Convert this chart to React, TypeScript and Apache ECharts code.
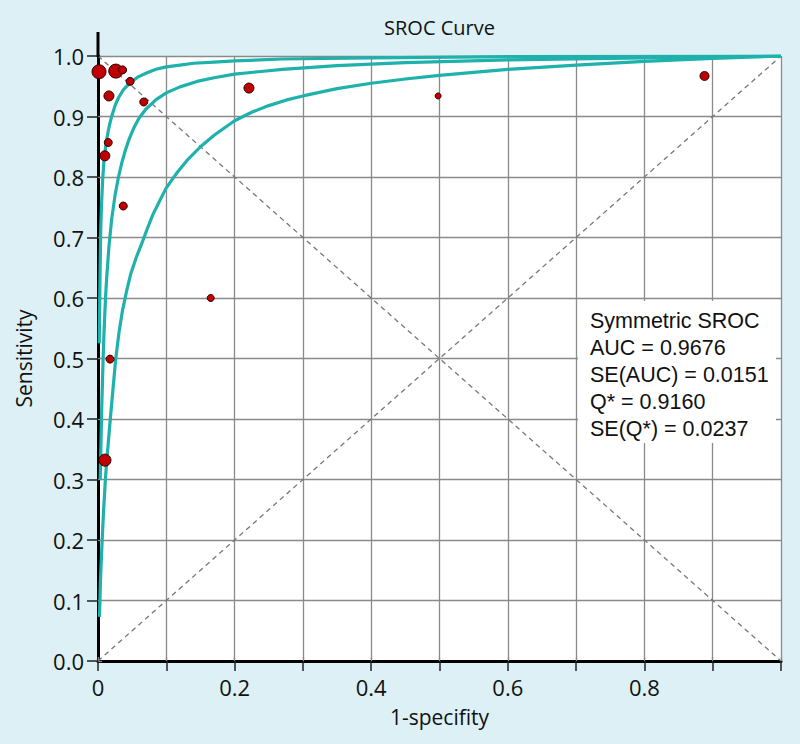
import React, { useEffect, useRef } from "react";
import * as echarts from "echarts";

// Study points (1-specificity, sensitivity, marker diameter)
const studyFpr = [0.0015, 0.026, 0.036, 0.047, 0.016, 0.067, 0.221, 0.015, 0.010, 0.037, 0.165, 0.0176, 0.0102, 0.498, 0.888];
const studySens = [0.974, 0.975, 0.977, 0.958, 0.934, 0.924, 0.947, 0.857, 0.835, 0.752, 0.600, 0.499, 0.332, 0.934, 0.967];
const studySize = [14, 14, 8, 8, 10, 8, 10, 8, 10, 8, 7, 8, 12, 6, 9];

// SROC curve and its bounds
const srocUpper = [
  [0.0018, 0.525], [0.0022, 0.565], [0.0027, 0.615], [0.0035, 0.68], [0.0042, 0.72], [0.005, 0.75],
  [0.006, 0.775], [0.0068, 0.795], [0.008, 0.815], [0.009, 0.83], [0.011, 0.848], [0.0127, 0.862],
  [0.015, 0.876], [0.0175, 0.889], [0.02, 0.9], [0.025, 0.918], [0.03, 0.931], [0.037, 0.944],
  [0.047, 0.956], [0.058, 0.965], [0.071, 0.972], [0.085, 0.978], [0.1, 0.982], [0.12, 0.985],
  [0.14, 0.988], [0.17, 0.99], [0.2, 0.992], [0.27, 0.995], [0.4, 0.997], [0.6, 0.999], [1, 1],
];
const srocMid = [
  [0.0032, 0.3], [0.0042, 0.35], [0.0055, 0.42], [0.0065, 0.46], [0.0075, 0.5], [0.0087, 0.54],
  [0.01, 0.575], [0.0115, 0.61], [0.013, 0.638], [0.016, 0.685], [0.02, 0.73], [0.025, 0.77],
  [0.03, 0.8], [0.035, 0.824], [0.04, 0.844], [0.046, 0.864], [0.052, 0.88], [0.06, 0.897],
  [0.07, 0.912], [0.085, 0.928], [0.1, 0.939], [0.12, 0.949], [0.145, 0.958], [0.17, 0.964],
  [0.2, 0.97], [0.235, 0.974], [0.27, 0.978], [0.35, 0.984], [0.45, 0.989], [0.6, 0.9935],
  [0.8, 0.997], [1, 1],
];
const srocLower = [
  [0.0022, 0.073], [0.0035, 0.13], [0.0055, 0.184], [0.008, 0.245], [0.0105, 0.294], [0.0128, 0.332],
  [0.015, 0.36], [0.018, 0.4], [0.022, 0.45], [0.026, 0.5], [0.031, 0.545], [0.036, 0.58],
  [0.042, 0.612], [0.048, 0.64], [0.056, 0.667], [0.064, 0.69], [0.072, 0.714], [0.08, 0.737],
  [0.09, 0.76], [0.1, 0.782], [0.115, 0.806], [0.13, 0.827], [0.15, 0.85], [0.17, 0.869],
  [0.2, 0.893], [0.225, 0.907], [0.25, 0.918], [0.275, 0.927], [0.3, 0.934], [0.35, 0.946],
  [0.4, 0.955], [0.45, 0.962], [0.5, 0.968], [0.6, 0.978], [0.7, 0.985], [0.8, 0.991],
  [0.9, 0.996], [1, 1],
];
const diagUp = [[0, 0], [1, 1]];
const diagDown = [[0, 1], [1, 0]];

const statsLines = ["Symmetric SROC", "AUC = 0.9676", "SE(AUC) = 0.0151", "Q* = 0.9160", "SE(Q*) = 0.0237"];

const FONT = "'Open Sans', 'Noto Sans', sans-serif";
const BOX_FONT = "'Liberation Sans', Arial, sans-serif";
const TEAL = "#1fb1ab";

export default function App() {
  const ref = useRef<HTMLDivElement>(null);
  useEffect(() => {
    document.body.style.margin = "0";
    const chart = echarts.init(ref.current!, null, { renderer: "svg" });
    const left = 98, top = 56, right = 781, bottom = 661;
    const curve = (data: number[][]) => ({
      type: "line", data, showSymbol: false, symbol: "none",
      lineStyle: { color: TEAL, width: 3.2, join: "round" }, z: 3,
    });
    const option: any = {
      animation: false,
      backgroundColor: "#dcf0f5",
      textStyle: { fontFamily: FONT },
      grid: {
        left, top, right: 800 - right, bottom: 744 - bottom,
        show: true, backgroundColor: "#ffffff", borderWidth: 0,
      },
      xAxis: [
        {
          type: "value", min: 0, max: 1, interval: 0.1, position: "bottom",
          axisLine: { show: true, onZero: false, lineStyle: { color: "#000", width: 3 } },
          axisTick: { show: true, length: 10, lineStyle: { color: "#222", width: 1.5 } },
          axisLabel: {
            fontSize: 22, color: "#111", margin: 15, fontFamily: FONT,
            formatter: (v: number) => {
              const k = Math.round(v * 10);
              if (k % 2 !== 0 || k >= 10) return "";
              return k === 0 ? "0" : v.toFixed(1);
            },
          },
          splitLine: { show: true, lineStyle: { color: "#8a8a8a", width: 1.3 } },
          name: "1-specifity", nameLocation: "middle", nameGap: 45,
          nameTextStyle: { fontSize: 21, color: "#111", fontFamily: FONT },
        },
        {
          type: "value", min: 0, max: 1, interval: 0.1, position: "top",
          axisLine: { show: false },
          axisTick: { show: true, length: 4, lineStyle: { color: "#888", width: 1.3 } },
          axisLabel: { show: false }, splitLine: { show: false },
        },
      ],
      yAxis: [
        {
          type: "value", min: 0, max: 1, interval: 0.1, position: "left",
          axisLine: { show: true, onZero: false, lineStyle: { color: "#000", width: 3 } },
          axisTick: { show: true, length: 11, lineStyle: { color: "#222", width: 1.5 } },
          axisLabel: {
            fontSize: 22, color: "#111", margin: 14, fontFamily: FONT,
            formatter: (v: number) => v.toFixed(1),
          },
          splitLine: { show: true, lineStyle: { color: "#8a8a8a", width: 1.3 } },
          name: "Sensitivity", nameLocation: "middle", nameGap: 64, nameRotate: 90,
          nameTextStyle: { fontSize: 21, color: "#111", fontFamily: FONT },
        },
        {
          type: "value", min: 0, max: 1, interval: 0.1, position: "right",
          axisLine: { show: false },
          axisTick: { show: true, length: 4, lineStyle: { color: "#888", width: 1.3 } },
          axisLabel: { show: false }, splitLine: { show: false },
        },
      ],
      graphic: [
        { type: "line", shape: { x1: left, y1: 32, x2: left, y2: top + 1 }, style: { stroke: "#000", lineWidth: 3 }, z: 10 },
        {
          type: "text", x: (left + right) / 2, y: 27,
          style: { text: "SROC Curve", fontSize: 20, fill: "#111", align: "center", verticalAlign: "middle", fontFamily: FONT },
        },
        { type: "rect", shape: { x: 578, y: 301, width: 198, height: 142 }, style: { fill: "#ffffff" }, z: 1 },
        {
          type: "text", x: 590, y: 307, z: 2,
          style: { text: statsLines.join("\n"), fontSize: 21.5, lineHeight: 27, fill: "#111", fontFamily: BOX_FONT },
        },
      ],
      series: [
        { type: "line", data: diagUp, showSymbol: false, symbol: "none", lineStyle: { color: "#777", width: 1.3, type: [5, 4] }, z: 2 },
        { type: "line", data: diagDown, showSymbol: false, symbol: "none", lineStyle: { color: "#777", width: 1.3, type: [5, 4] }, z: 2 },
        curve(srocUpper),
        curve(srocMid),
        curve(srocLower),
        {
          type: "scatter", clip: false, z: 5,
          data: studyFpr.map((x, i) => [x, studySens[i], studySize[i]]),
          symbolSize: (v: number[]) => v[2],
          itemStyle: { color: "#c00000", borderColor: "#2a0000", borderWidth: 1, opacity: 1 },
        },
      ],
    };
    chart.setOption(option);
    return () => chart.dispose();
  }, []);
  return (
    <div
      ref={ref}
      style={{ position: "absolute", left: 0, top: 0, width: 800, height: 744 }}
    />
  );
}
